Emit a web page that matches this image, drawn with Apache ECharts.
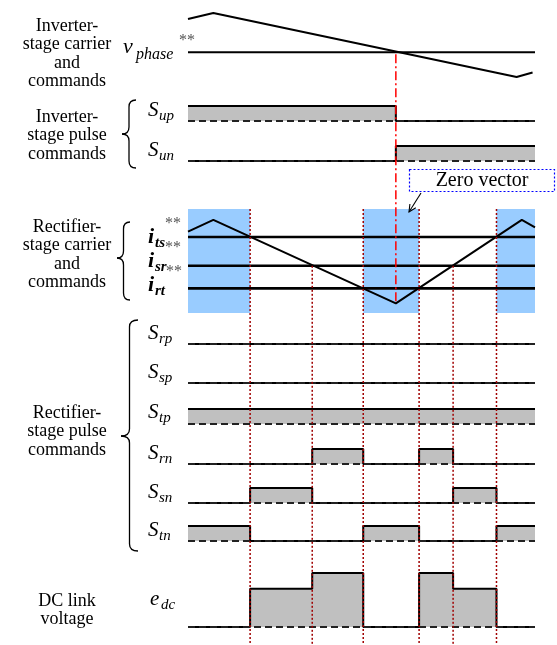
<!DOCTYPE html>
<html>
<head>
<meta charset="utf-8">
<script src="https://cdn.jsdelivr.net/npm/echarts@6/dist/echarts.min.js"></script>
<style>
  html, body { margin: 0; padding: 0; background: #fff; }
  #chart { width: 557px; height: 645px; }
</style>
</head>
<body>
<div id="chart"></div>
<script>
// ---- time axis: one switching period, 0 .. 100 ----
const T_MIN = 0;
const T_MAX = 100;

// ---- inverter stage ----
const invCarrier = [[0, 0.81], [7.3, 1], [94.7, -1], [99.3, -0.86]];
const vPhase = -0.23;
const tInvSwitch = 59.9;
const Sup = [[0, 1], [59.9, 0], [100, 0]];
const Sun = [[0, 0], [59.9, 1], [100, 1]];

// ---- rectifier stage ----
const recCarrier = [[0, 0.72], [7.3, 1], [59.9, -1], [96.2, 1], [100, 0.82]];
const iTs = 0.59;
const iSr = -0.10;
const iRt = -0.64;
const zeroVectorZones = [[0, 17.9], [50.5, 66.6], [88.9, 100]];
const recSwitchTimes = [17.9, 35.8, 50.5, 66.6, 76.4, 88.9];
const recSwitchCmd = ['ts', 'sr', 'rt', 'rt', 'sr', 'ts'];

const Srp = [[0, 0], [100, 0]];
const Ssp = [[0, 0], [100, 0]];
const Stp = [[0, 1], [100, 1]];
const Srn = [[0, 0], [35.8, 1], [50.5, 0], [66.6, 1], [76.4, 0], [100, 0]];
const Ssn = [[0, 0], [17.9, 1], [35.8, 0], [76.4, 1], [88.9, 0], [100, 0]];
const Stn = [[0, 1], [17.9, 0], [50.5, 1], [66.6, 0], [88.9, 1], [100, 1]];
const Edc = [[0, 0], [17.9, 0.71], [35.8, 1], [50.5, 0], [66.6, 1], [76.4, 0.71], [88.9, 0], [100, 0]];

// ---- row layout (pixels) ----
const PLOT_LEFT = 188, PLOT_RIGHT = 22;
const rows = [
  { key: 'inv', top: 13,  height: 64,  min: -1,    max: 1 },
  { key: 'up',  top: 106, height: 15,  min: 0,     max: 1 },
  { key: 'un',  top: 146, height: 15,  min: 0,     max: 1 },
  { key: 'rec', top: 209, height: 104, min: -1.23, max: 1.26 },
  { key: 'rp',  top: 329, height: 15,  min: 0,     max: 1 },
  { key: 'sp',  top: 368, height: 15,  min: 0,     max: 1 },
  { key: 'tp',  top: 409, height: 15,  min: 0,     max: 1 },
  { key: 'rn',  top: 449, height: 15,  min: 0,     max: 1 },
  { key: 'sn',  top: 488, height: 15,  min: 0,     max: 1 },
  { key: 'tn',  top: 526, height: 15,  min: 0,     max: 1 },
  { key: 'dc',  top: 573, height: 54,  min: 0,     max: 1 }
];
const rowIndex = {};
rows.forEach((r, i) => { rowIndex[r.key] = i; });

const SERIF = '"Liberation Serif", "Times New Roman", serif';
const FILL = '#c0c0c0';
const BLUE = '#99ccff';

const grid = rows.map(r => ({ left: PLOT_LEFT, right: PLOT_RIGHT, top: r.top, height: r.height }));
const xAxis = rows.map((r, i) => ({ type: 'value', gridIndex: i, min: T_MIN, max: T_MAX, show: false }));
const yAxis = rows.map((r, i) => ({ type: 'value', gridIndex: i, min: r.min, max: r.max, show: false }));

function plainLine(key, data, width, z) {
  const i = rowIndex[key];
  return {
    type: 'line', xAxisIndex: i, yAxisIndex: i, data: data, symbol: 'none',
    lineStyle: { color: '#000', width: width }, clip: false, z: z, silent: true
  };
}

function pulseRow(key, data) {
  const i = rowIndex[key];
  return [
    {
      type: 'line', xAxisIndex: i, yAxisIndex: i, data: data, step: 'end', symbol: 'none',
      lineStyle: { color: '#000', width: 2 },
      areaStyle: { color: FILL, opacity: 1, origin: 0 },
      clip: false, z: 2, silent: true
    },
    {
      type: 'line', xAxisIndex: i, yAxisIndex: i, data: [[T_MIN, 0], [T_MAX, 0]], symbol: 'none',
      lineStyle: { color: '#222', width: 1.8, type: [7, 4] }, clip: false, z: 3, silent: true
    }
  ];
}

const series = [];
// inverter carrier and phase command
series.push(plainLine('inv', invCarrier, 2, 3));
series.push(plainLine('inv', [[T_MIN, vPhase], [T_MAX, vPhase]], 2, 3));
// inverter pulses
series.push(...pulseRow('up', Sup));
series.push(...pulseRow('un', Sun));
// rectifier zero-vector bands
series.push({
  type: 'line', xAxisIndex: rowIndex.rec, yAxisIndex: rowIndex.rec, data: [], z: 1, silent: true,
  markArea: {
    silent: true,
    itemStyle: { color: BLUE, opacity: 1 },
    data: zeroVectorZones.map(z => [{ xAxis: z[0] }, { xAxis: z[1] }])
  }
});
// rectifier carrier and current commands
series.push(plainLine('rec', recCarrier, 2, 3));
[iTs, iSr, iRt].forEach(v => series.push(plainLine('rec', [[T_MIN, v], [T_MAX, v]], 2.6, 3)));
// rectifier pulses
series.push(...pulseRow('rp', Srp));
series.push(...pulseRow('sp', Ssp));
series.push(...pulseRow('tp', Stp));
series.push(...pulseRow('rn', Srn));
series.push(...pulseRow('sn', Ssn));
series.push(...pulseRow('tn', Stn));
series.push(...pulseRow('dc', Edc));

const chart = echarts.init(document.getElementById('chart'), null, { renderer: 'canvas' });
chart.setOption({ animation: false, grid, xAxis, yAxis, series });

// ---- annotations ----
const g = [];
function txt(x, y, text, font, align, fill) {
  g.push({
    type: 'text', x: x, y: y, z: 60, silent: true,
    style: { text: text, font: font, fill: fill || '#000', align: align || 'left',
             textAlign: align || 'left', verticalAlign: 'middle', textVerticalAlign: 'middle' }
  });
}
function block(lines, cy0, lh) {
  lines.forEach((s, k) => txt(67, cy0 + k * lh, s, '18px ' + SERIF, 'center'));
}
const braceStyle = { stroke: '#000', lineWidth: 1.3, fill: null };
function curve(x1, y1, cx, cy, x2, y2) {
  g.push({ type: 'bezierCurve', z: 60, silent: true,
           shape: { x1, y1, x2, y2, cpx1: cx, cpy1: cy }, style: braceStyle });
}
function seg(x1, y1, x2, y2) {
  g.push({ type: 'line', z: 60, silent: true, shape: { x1, y1, x2, y2 }, style: braceStyle });
}
function brace(xTip, xCurl, top, bottom, mid) {
  const xm = (xTip + xCurl) / 2, r = 7;
  curve(xCurl, top, xm, top, xm, top + r);
  seg(xm, top + r, xm, mid - r);
  curve(xm, mid - r, xm, mid, xTip, mid);
  curve(xTip, mid, xm, mid, xm, mid + r);
  seg(xm, mid + r, xm, bottom - r);
  curve(xm, bottom - r, xm, bottom, xCurl, bottom);
}
function sigLabel(main, sub, cy) {
  txt(148, cy, main, 'italic 21px ' + SERIF);
  txt(159, cy + 6, sub, 'italic 15px ' + SERIF);
}

block(['Inverter-', 'stage carrier', 'and', 'commands'], 26, 18.5);
block(['Inverter-', 'stage pulse', 'commands'], 117, 18.5);
block(['Rectifier-', 'stage carrier', 'and', 'commands'], 227, 18.5);
block(['Rectifier-', 'stage pulse', 'commands'], 413, 18.5);
block(['DC link', 'voltage'], 601, 18.5);

brace(122, 136, 100, 168, 134);
brace(117, 130, 222, 300, 258);
brace(121, 138, 320, 551, 436);

// v_phase**
txt(123, 47, 'v', 'italic 22px ' + SERIF);
txt(136, 55, 'phase', 'italic 16px ' + SERIF);
txt(179, 41, '**', '16px ' + SERIF, 'left', '#555');

// switching labels
sigLabel('S', 'up', 110);
sigLabel('S', 'un', 150);
sigLabel('S', 'rp', 333);
sigLabel('S', 'sp', 372);
sigLabel('S', 'tp', 412);
sigLabel('S', 'rn', 453);
sigLabel('S', 'sn', 492);
sigLabel('S', 'tn', 530);
txt(150, 599, 'e', 'italic 21px ' + SERIF);
txt(161, 605, 'dc', 'italic 15px ' + SERIF);

// current commands
[['ts', 237, 165], ['sr', 261, 165], ['rt', 285, 166]].forEach(([sub, cy, sx]) => {
  txt(148, cy, 'i', 'italic bold 22px ' + SERIF);
  txt(155, cy + 6, sub, 'italic bold 15px ' + SERIF);
  txt(sx, cy - 13, '**', '16px ' + SERIF, 'left', '#555');
});

// zero vector callout
g.push({ type: 'rect', z: 60, silent: true, shape: { x: 409.5, y: 169.5, width: 145, height: 22 },
         style: { fill: '#fff', stroke: '#0000ff', lineWidth: 1.2, lineDash: [2, 2] } });
txt(482, 181, 'Zero vector', '20px ' + SERIF, 'center');
(function arrow() {
  const x1 = 421, y1 = 193, x2 = 409, y2 = 212;
  const ang = Math.atan2(y2 - y1, x2 - x1), L = 8, s = 0.45;
  g.push({ type: 'line', z: 60, silent: true, shape: { x1, y1, x2, y2 }, style: { stroke: '#000', lineWidth: 1.1 } });
  g.push({ type: 'polyline', z: 60, silent: true,
           shape: { points: [[x2 - L * Math.cos(ang - s), y2 - L * Math.sin(ang - s)], [x2, y2],
                             [x2 - L * Math.cos(ang + s), y2 - L * Math.sin(ang + s)]] },
           style: { stroke: '#000', lineWidth: 1.1, fill: null } });
})();

// switching instants carried down through the rectifier rows
const recRow = rows[rowIndex.rec];
const cmdLevel = { ts: recRow.max, rt: recRow.max, sr: iSr };
recSwitchTimes.forEach((t, k) => {
  const p0 = chart.convertToPixel({ gridIndex: rowIndex.rec }, [t, cmdLevel[recSwitchCmd[k]]]);
  g.push({ type: 'line', z: 55, silent: true, shape: { x1: p0[0], y1: p0[1], x2: p0[0], y2: 645 },
           style: { stroke: '#a00000', lineWidth: 1.5, lineDash: [2, 2] } });
});

// inverter switching instant down to the rectifier carrier valley
const pTop = chart.convertToPixel({ gridIndex: rowIndex.inv }, [tInvSwitch, vPhase]);
const pBot = chart.convertToPixel({ gridIndex: rowIndex.rec }, [tInvSwitch, -1]);
g.push({ type: 'line', z: 55, silent: true, shape: { x1: pTop[0], y1: pTop[1] + 2, x2: pBot[0], y2: pBot[1] },
         style: { stroke: '#ff0000', lineWidth: 1.5, lineDash: [9, 3, 2, 3] } });

chart.setOption({ graphic: { elements: g } });
</script>
</body>
</html>
